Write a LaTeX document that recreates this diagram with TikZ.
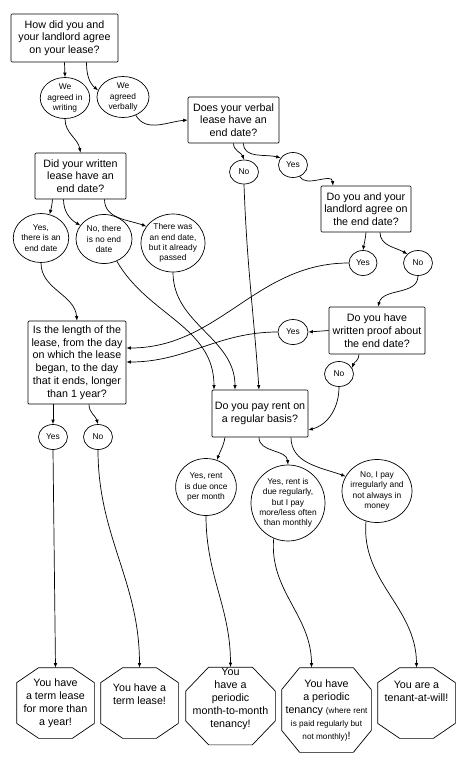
\documentclass[tikz,border=0pt]{standalone}
\usepackage{fontspec}
\setmainfont{Liberation Sans}
\usetikzlibrary{arrows.meta,shapes.geometric}

\begin{document}
\begin{tikzpicture}[x=1pt, y=1pt, line width=0.7pt, >={Latex[length=4.5pt,width=3.6pt]},
    qbox/.style={draw, rounded corners=1pt, align=center, inner sep=0pt, font=\fontsize{10.7}{12.7}\selectfont},
    ans/.style={draw, ellipse, align=center, inner sep=0pt, font=\fontsize{8.4}{10.3}\selectfont},
    res/.style={align=center, inner sep=0pt, font=\fontsize{10.7}{13}\selectfont}]
  \useasboundingbox (0,0) rectangle (474,-780);

  % Questions
  \node[qbox, minimum width=107pt, minimum height=48pt] (q1) at (64.5,-38) {How did you and\\your landlord agree\\on your lease?};
  \node[qbox, minimum width=91pt, minimum height=46pt] (q2) at (233.5,-120) {Does your verbal\\lease have an\\end date?};
  \node[qbox, minimum width=91pt, minimum height=46pt] (q3) at (80.5,-176) {Did your written\\lease have an\\end date?};
  \node[qbox, minimum width=90pt, minimum height=46pt] (q4) at (366,-209) {Do you and your\\landlord agree on\\the end date?};
  \node[qbox, minimum width=96pt, minimum height=47pt] (q5) at (377,-330.5) {Do you have\\written proof about\\the end date?};
  \node[qbox, minimum width=96pt, minimum height=47pt] (q6) at (260,-413.5) {Do you pay rent on\\a regular basis?};
  \node[qbox, minimum width=98pt, minimum height=83pt] (q7) at (77,-362.5) {Is the length of the\\lease, from the day\\on which the lease\\began, to the day\\that it ends, longer\\than 1 year?};

  % Answers
  \node[ans, minimum width=45pt, minimum height=41pt] (a1) at (65,-98) {We\\agreed in\\writing};
  \node[ans, minimum width=52pt, minimum height=41pt] (a2) at (123,-97) {We\\agreed\\verbally};
  \node[ans, minimum width=29pt, minimum height=24pt] (v1) at (244,-172) {No};
  \node[ans, minimum width=29pt, minimum height=25pt] (v2) at (293,-165) {Yes};
  \node[ans, minimum width=54pt, minimum height=49pt] (w1) at (41,-238) {Yes,\\there is an\\end date};
  \node[ans, minimum width=56pt, minimum height=49pt] (w2) at (104,-239) {No, there\\is no end\\date};
  \node[ans, minimum width=64pt, minimum height=58pt, inner xsep=-2pt] (w3) at (173,-243) {There was\\an end date,\\but it already\\passed};
  \node[ans, minimum width=28pt, minimum height=25pt] (e1) at (363,-263) {Yes};
  \node[ans, minimum width=29pt, minimum height=25pt] (e2) at (418,-263) {No};
  \node[ans, minimum width=30pt, minimum height=25pt] (p1) at (293,-332) {Yes};
  \node[ans, minimum width=29pt, minimum height=25pt] (p2) at (339,-374) {No};
  \node[ans, minimum width=29pt, minimum height=25pt] (l1) at (53,-437) {Yes};
  \node[ans, minimum width=29pt, minimum height=25pt] (l2) at (98,-437) {No};
  \node[ans, minimum width=56pt, minimum height=57pt] (r1) at (206,-487) {Yes, rent\\is due once\\per month};
  \node[ans, minimum width=74pt, minimum height=76pt, inner xsep=-3pt] (r2) at (288,-503) {Yes, rent is\\due regularly,\\but I pay\\more/less often\\than monthly};
  \node[ans, minimum width=70pt, minimum height=63pt, inner xsep=-2pt] (r3) at (377,-491) {No, I pay\\irregularly and\\not always in\\money};

  % Results (octagons)
  \node[res, minimum width=77pt, minimum height=70pt] (o1) at (55.5,-703) {You have\\a term lease\\for more than\\a year!};
  \node[res, minimum width=77pt, minimum height=70pt] (o2) at (139.5,-703) {You have a\\term lease!\\[4pt]};
  \node[res, minimum width=89pt, minimum height=77pt] (o3) at (230.5,-706) {You\\have a\\periodic\\month-to-month\\tenancy!\\[3pt]};
  \node[res, minimum width=89pt, minimum height=84pt] (o4) at (326.5,-710) {You have\\a periodic\\tenancy {\fontsize{8.2}{11}\selectfont (where rent}\\{\fontsize{8.2}{11}\selectfont is paid regularly but}\\{\fontsize{8.2}{11}\selectfont not monthly)}!};
  \node[res, minimum width=77pt, minimum height=70pt] (o5) at (416.5,-703) {You are a\\tenant-at-will!\\[10pt]};
  \foreach \o/\dx/\dy in {o1/22/15, o2/22/15, o3/23/24, o4/18/22, o5/22/15} {
    \draw ([xshift=\dx]\o.north west) -- ([xshift=-\dx]\o.north east) -- ([yshift=-\dy]\o.north east)
      -- ([yshift=\dy]\o.south east) -- ([xshift=-\dx]\o.south east) -- ([xshift=\dx]\o.south west)
      -- ([yshift=\dy]\o.south west) -- ([yshift=-\dy]\o.north west) -- cycle;
  }

  % Connectors
  \draw[->] (q1.south) -- (a1.north);
  \draw[->] ([xshift=22pt]q1.south) to[out=-90, in=140] (a2.165);
  \draw[->] (a2.-55) to[out=-60, in=185] (q2.west);
  \draw[->] (a1.south) to[out=-90, in=100] (q3.north);
  \draw[->] (q2.south) to[out=-90, in=110] (v1.north);
  \draw[->] ([xshift=10pt]q2.south) to[out=-90, in=165] (v2.150);
  \draw[->] (v2.-60) to[out=-60, in=95] ([xshift=-33pt]q4.north);
  \draw[->] (q4.south) to[out=-95, in=80] (e1.north);
  \draw[->] ([xshift=14pt]q4.south) to[out=-90, in=150] (e2.140);
  \draw[->] (e2.south) to[out=-90, in=75] ([xshift=1pt]q5.north);
  \draw[->] (q5.west) -- (p1.east);
  \draw[->] ([xshift=-18pt]q5.south) to[out=-90, in=70] (p2.25);
  \draw[->] (p2.south) to[out=-90, in=15] ([yshift=-16.5pt]q6.east);
  \draw[->] ([xshift=-28pt]q3.south) to[out=-95, in=75] (w1.70);
  \draw[->] ([xshift=-17pt]q3.south) to[out=-90, in=150] (w2.150);
  \draw[->] ([xshift=24pt]q3.south) to[out=-90, in=160] (w3.148);
  \draw[->] (w1.south) to[out=-90, in=95] (q7.north);
  \draw[->] (w2.-60) to[out=-60, in=90] ([xshift=-46pt]q6.north);
  \draw[->] (w3.south) to[out=-90, in=90] ([xshift=-25pt]q6.north);
  \draw[->] (v1.south) to[out=-88, in=94] ([xshift=-1pt]q6.north);
  \draw[->] (e1.west) to[out=180, in=0] ([yshift=14.5pt]q7.east);
  \draw[->] (p1.west) to[out=180, in=0] ([yshift=0.5pt]q7.east);
  \draw[->] (q7.south -| l1) -- (l1.north);
  \draw[->] ([xshift=12pt]q7.south) to[out=-90, in=105] (l2.north);
  \draw[->] (l1.south) -- (o1.north);
  \draw[->] (l2.south) to[out=-90, in=90] (o2.north);
  \draw[->] ([xshift=-35pt]q6.south) to[out=-100, in=70] (r1.68);
  \draw[->] ([xshift=-1pt]q6.south) to[out=-90, in=95] (r2.north);
  \draw[->] ([xshift=31pt]q6.south) to[out=-90, in=160] (r3.155);
  \draw[->] (r1.south) to[out=-90, in=90] (o3.north);
  \draw[->] (r2.-112) to[out=-95, in=90] ([xshift=-15pt]o4.north);
  \draw[->] (r3.-110) to[out=-95, in=90] (o5.north);
\end{tikzpicture}
\end{document}
